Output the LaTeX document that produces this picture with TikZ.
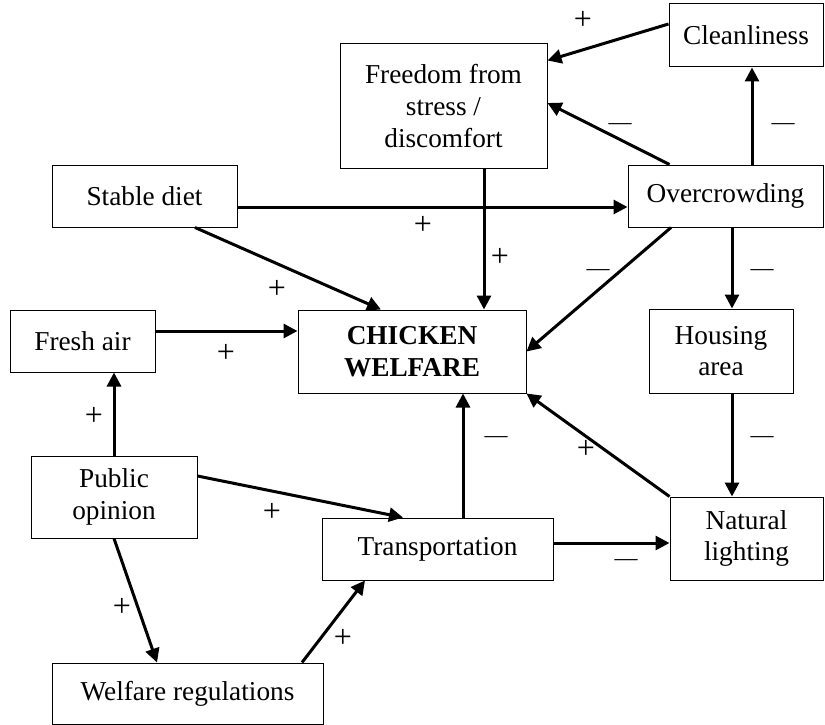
\documentclass[tikz,border=0pt]{standalone}
\usepackage{fontspec}
\setmainfont{Liberation Serif}
\usepackage{tikz}
\usetikzlibrary{positioning}
\usetikzlibrary{arrows.meta}
\usetikzlibrary{calc}
\begin{document}
\begin{tikzpicture}[x=1pt,y=-1pt,
  box/.style={draw,line width=1pt,rectangle,align=center,inner sep=0pt,font=\fontsize{27.3pt}{31.7pt}\selectfont},
  plus/.style={inner sep=0pt,font=\fontsize{32pt}{32pt}\selectfont},
  minus/.style={inner sep=0pt,yshift=-5pt,font=\fontsize{23pt}{23pt}\selectfont},
  arr/.style={line width=3pt,-{Triangle[length=14pt,width=14pt]}}]
\useasboundingbox (0,0) rectangle (825,725);

\node (clean) at (746,35.5) [box,minimum width=154pt,minimum height=63pt] {Cleanliness};
\node (freedom) at (443.5,106) [box,minimum width=207pt,minimum height=124pt] {Freedom from\\stress /\\discomfort};
\node (crowd) at (725.5,196) [box,minimum width=195pt,minimum height=62pt] {Overcrowding};
\node (diet) at (144.5,196) [box,minimum width=185pt,minimum height=62pt] {Stable diet};
\node (fresh) at (82.5,341) [box,minimum width=145pt,minimum height=62pt] {Fresh air};
\node (welfare) at (412,351.5) [box,minimum width=228pt,minimum height=83pt] {\bfseries CHICKEN\\\bfseries WELFARE};
\node (housing) at (721,351) [box,minimum width=144pt,minimum height=84pt] {Housing\\area};
\node (public) at (114,497) [box,minimum width=166pt,minimum height=82pt] {Public\\opinion};
\node (transport) at (437.5,549) [box,minimum width=231pt,minimum height=62pt] {Transportation};
\node (light) at (746.5,538.5) [box,minimum width=153pt,minimum height=83pt] {Natural\\lighting};
\node (regs) at (187.5,693.5) [box,minimum width=271pt,minimum height=61pt] {Welfare regulations};

% connectors
\draw[arr] ([yshift=11.5pt]clean.west) -- ([yshift=-17pt]freedom.north east);
\draw[arr] ([xshift=42pt]crowd.north west) -- ([yshift=3pt]freedom.east);
\draw[arr] ([xshift=26.5pt]crowd.north) -- ([xshift=6pt]clean.south);
\draw[arr] ([yshift=-11pt]diet.east) -- ([yshift=-11pt]crowd.west);
\draw[arr] ([xshift=40.5pt]freedom.south) -- ([xshift=72pt]welfare.north);
\draw[arr] ([xshift=50.5pt]diet.south) -- ([xshift=-31pt]welfare.north);
\draw[arr] ([yshift=10pt]fresh.east) -- ([yshift=20.5pt]welfare.west);
\draw[arr] ([xshift=-54.5pt]crowd.south) -- (welfare.east);
\draw[arr] ([xshift=6.5pt]crowd.south) -- ([xshift=11pt]housing.north);
\draw[arr] ([xshift=11pt]housing.south) -- ([xshift=-14.5pt]light.north);
\draw[arr] (light.north west) -- (welfare.south east);
\draw[arr] ([xshift=25.5pt]transport.north) -- ([xshift=51pt]welfare.south);
\draw[arr] (public.north) -- ([xshift=31.5pt]fresh.south);
\draw[arr] ([yshift=21pt]public.east) -- ([xshift=-34.5pt]transport.north);
\draw[arr] ([yshift=6pt]transport.east) -- ([yshift=-4.5pt]light.west);
\draw[arr] (public.south) -- ([xshift=-30.5pt]regs.north);
\draw[arr] ([xshift=114.5pt]regs.north) -- ([xshift=-72.5pt]transport.south);

% signs
\node (s1) at (583,20) [plus] {+};
\node (s2) at (620,122) [minus] {—};
\node (s3) at (783,122) [minus] {—};
\node (s4) at (423,225) [plus] {+};
\node (s5) at (500,257) [plus] {+};
\node (s6) at (277,289) [plus] {+};
\node (s7) at (226,353) [plus] {+};
\node (s8) at (598,268) [minus] {—};
\node (s9) at (762,268) [minus] {—};
\node (s10) at (762,435) [minus] {—};
\node (s11) at (586,449) [plus] {+};
\node (s12) at (496,435) [minus] {—};
\node (s13) at (94,416) [plus] {+};
\node (s14) at (272,512) [plus] {+};
\node (s15) at (626,558) [minus] {—};
\node (s16) at (122,607) [plus] {+};
\node (s17) at (343,638) [plus] {+};
\end{tikzpicture}
\end{document}
